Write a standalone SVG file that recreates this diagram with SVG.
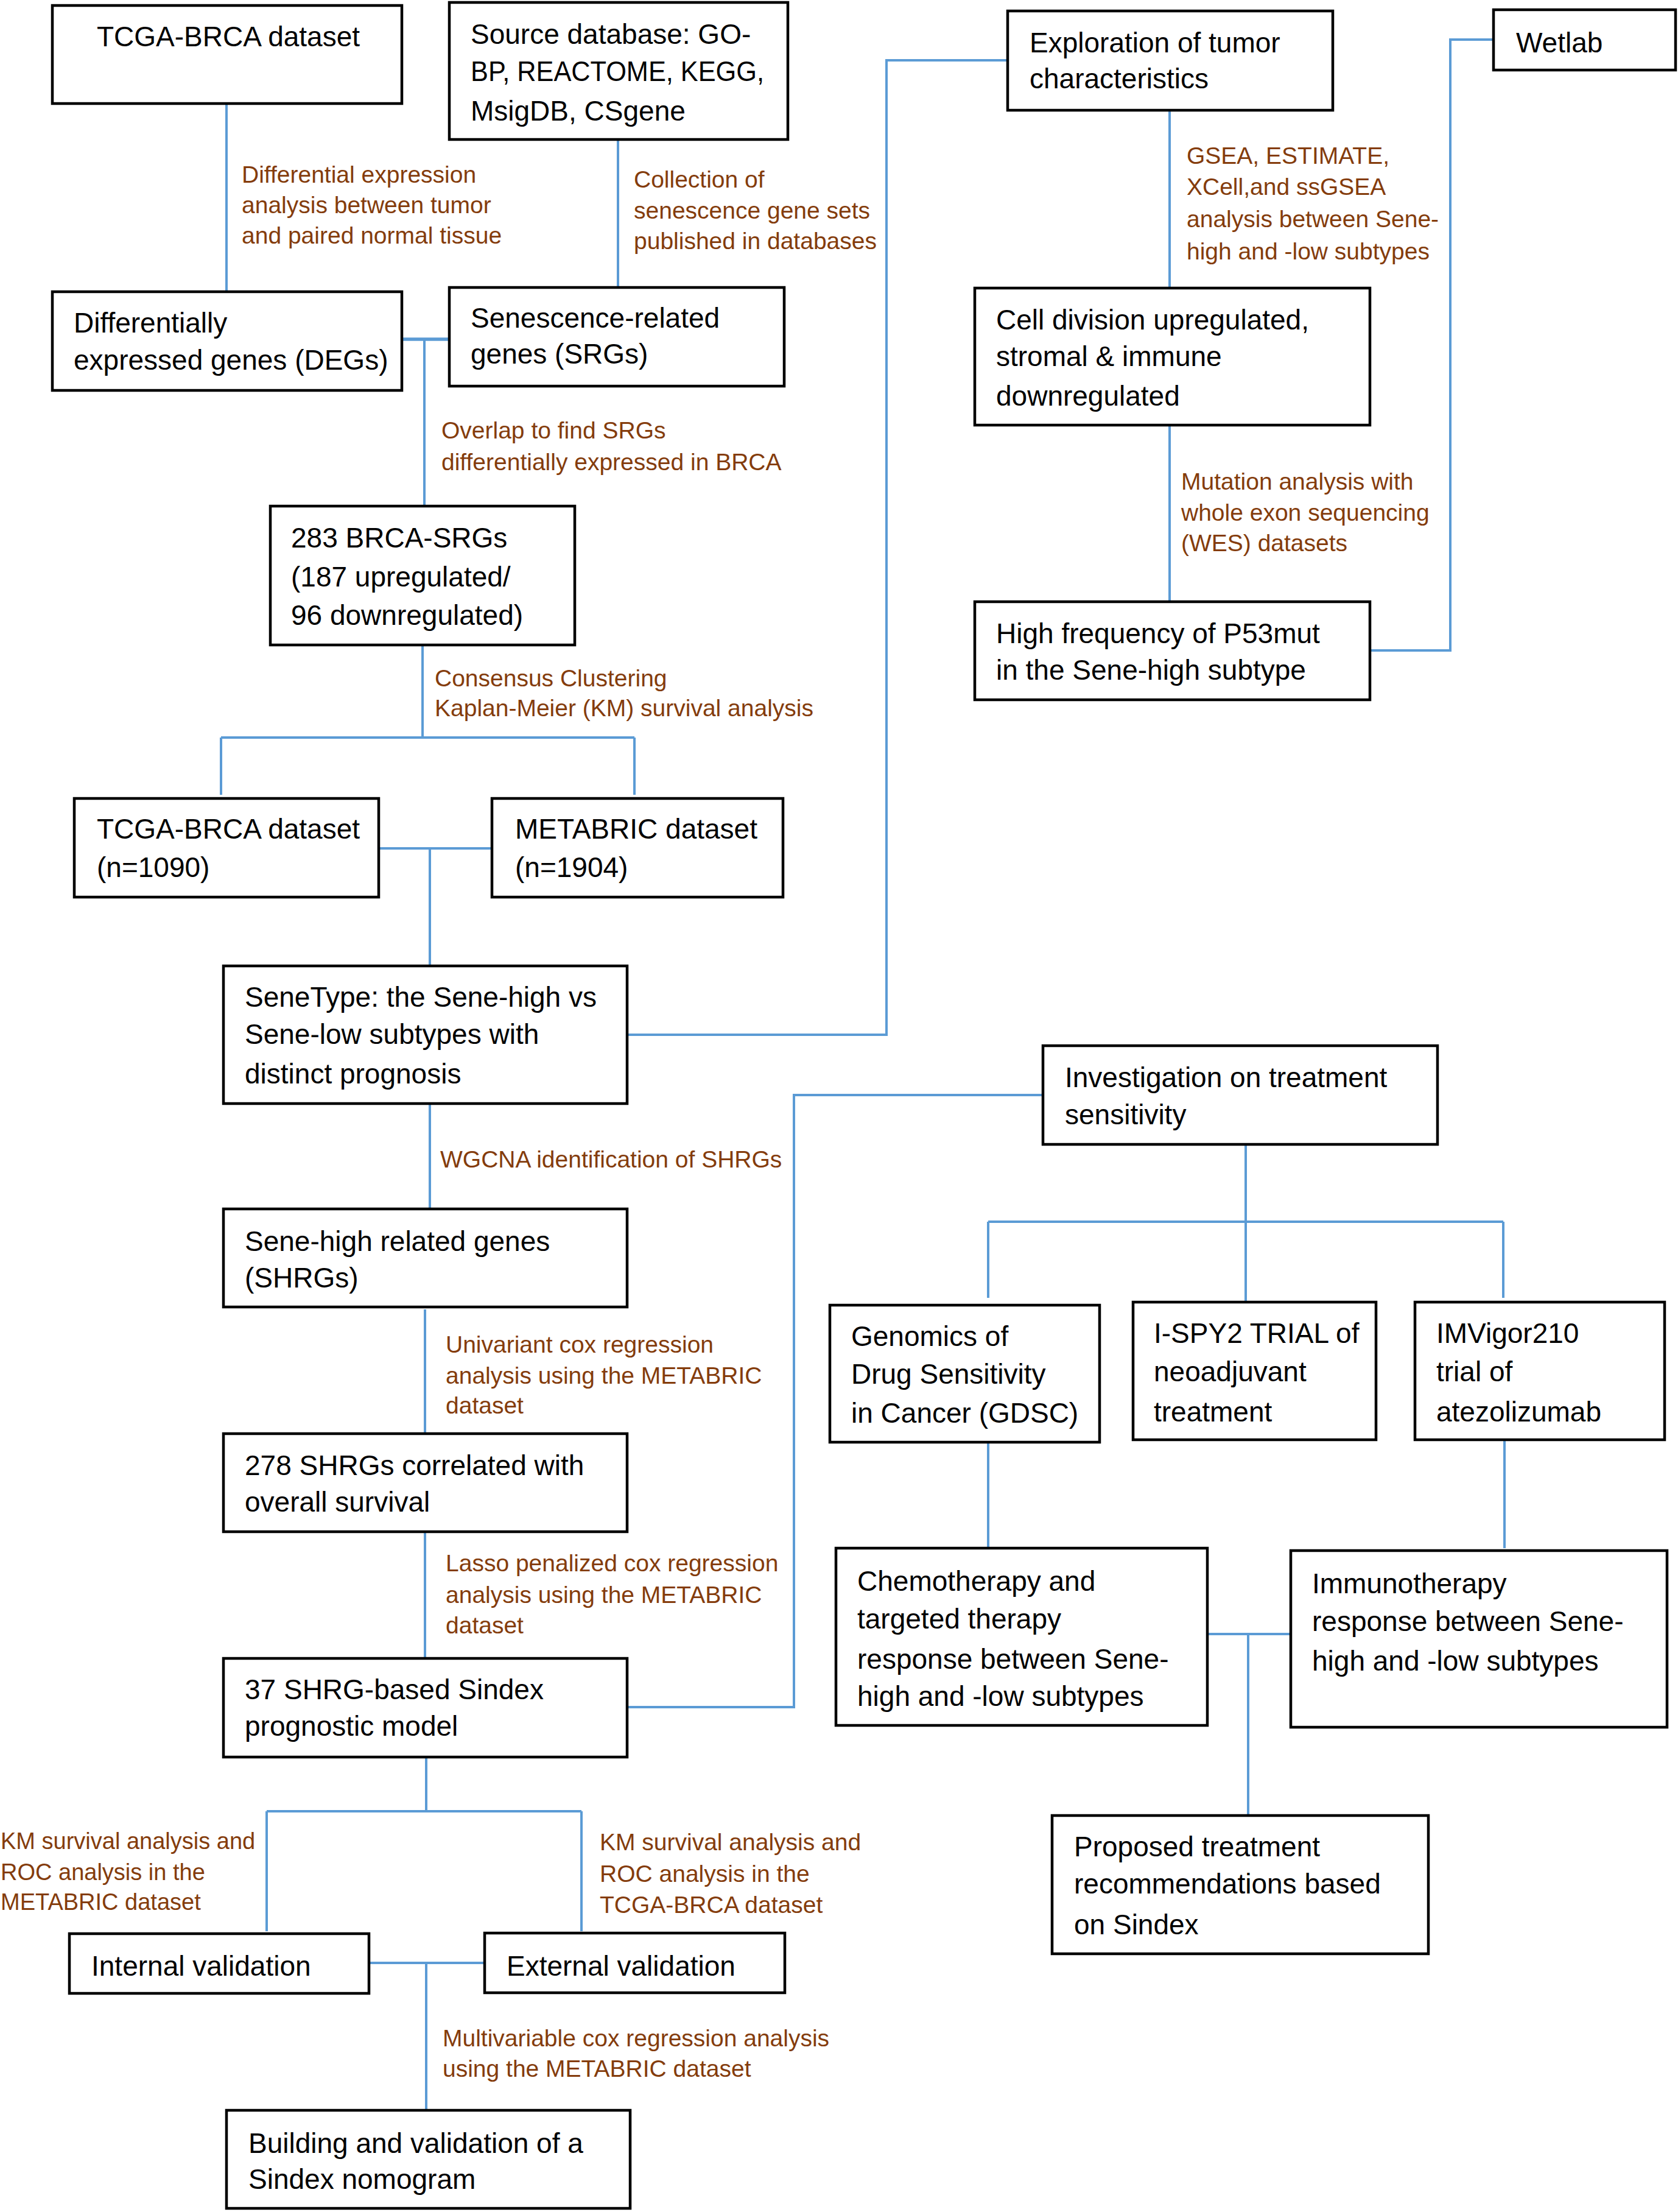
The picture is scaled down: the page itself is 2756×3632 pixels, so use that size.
<svg xmlns="http://www.w3.org/2000/svg" width="2756" height="3632" viewBox="0 0 2756 3632">
<style>
.box{fill:#fff;stroke:#000;stroke-width:4.5}
.t{font-family:"Liberation Sans",Arial,sans-serif;font-size:46px;fill:#000}
.r{font-family:"Liberation Sans",Arial,sans-serif;font-size:39px;fill:#843C0C}
.rs{font-size:38px}
.c{fill:none;stroke:#5B9BD5;stroke-width:4}
</style>
<rect width="2756" height="3632" fill="#fff"/>
<g id="connectors">
<path class="c" d="M372 170V479"/>
<path class="c" d="M1015 229V472"/>
<path class="c" d="M660 557H738" style="stroke-width:5.5"/>
<path class="c" d="M697 557V831"/>
<path class="c" d="M694 1059V1211M363 1211H1042M363 1211V1305M1042 1211V1305"/>
<path class="c" d="M622 1393H808M706 1393V1586"/>
<path class="c" d="M1030 1699H1456V99H1655"/>
<path class="c" d="M706 1812V1985"/>
<path class="c" d="M698 2150V2354"/>
<path class="c" d="M698 2515V2723"/>
<path class="c" d="M1030 2803H1304V1798H1713"/>
<path class="c" d="M700 2885V2974M438 2974H955M438 2974V3171M955 2974V3171"/>
<path class="c" d="M606 3223H796M700 3223V3465"/>
<path class="c" d="M1921 181V473"/>
<path class="c" d="M1921 698V988"/>
<path class="c" d="M2250 1068H2382V65H2453"/>
<path class="c" d="M2046 1879V2006M1623 2006H2469M1623 2006V2131M2046 2006V2136M2469 2006V2131"/>
<path class="c" d="M1623 2368V2542"/>
<path class="c" d="M2471 2364V2542"/>
<path class="c" d="M1983 2683H2120M2050 2683V2981"/>
</g>
<g id="labels">
<text class="r" x="397" y="300">Differential expression</text>
<text class="r" x="397" y="350">analysis between tumor</text>
<text class="r" x="397" y="400">and paired normal tissue</text>
<text class="r" x="1041" y="308">Collection of</text>
<text class="r" x="1041" y="359">senescence gene sets</text>
<text class="r" x="1041" y="409">published in databases</text>
<text class="r" x="725" y="720">Overlap to find SRGs</text>
<text class="r" x="725" y="772">differentially expressed in BRCA</text>
<text class="r" x="714" y="1127">Consensus Clustering</text>
<text class="r" x="714" y="1176">Kaplan-Meier (KM) survival analysis</text>
<text class="r" x="723" y="1917">WGCNA identification of SHRGs</text>
<text class="r" x="732" y="2221">Univariant cox regression</text>
<text class="r" x="732" y="2272">analysis using the METABRIC</text>
<text class="r" x="732" y="2321">dataset</text>
<text class="r" x="732" y="2580">Lasso penalized cox regression</text>
<text class="r" x="732" y="2632">analysis using the METABRIC</text>
<text class="r" x="732" y="2682">dataset</text>
<text class="r rs" x="1" y="3036">KM survival analysis and</text>
<text class="r rs" x="1" y="3087">ROC analysis in the</text>
<text class="r rs" x="1" y="3136">METABRIC dataset</text>
<text class="r" x="985" y="3038">KM survival analysis and</text>
<text class="r" x="985" y="3090">ROC analysis in the</text>
<text class="r" x="985" y="3141">TCGA-BRCA dataset</text>
<text class="r" x="727" y="3360">Multivariable cox regression analysis</text>
<text class="r" x="727" y="3410">using the METABRIC dataset</text>
<text class="r" x="1949" y="269">GSEA, ESTIMATE,</text>
<text class="r" x="1949" y="320">XCell,and ssGSEA</text>
<text class="r" x="1949" y="373">analysis between Sene-</text>
<text class="r" x="1949" y="426">high and -low subtypes</text>
<text class="r" x="1940" y="804">Mutation analysis with</text>
<text class="r" x="1940" y="855">whole exon sequencing</text>
<text class="r" x="1940" y="905">(WES) datasets</text>
</g>
<g id="tcga"><rect class="box" x="86" y="9" width="574" height="161"/><text class="t" x="159" y="76">TCGA-BRCA dataset</text></g>
<g id="source"><rect class="box" x="738" y="4" width="556" height="225"/><text class="t" x="773" y="72">Source database: GO-</text><text class="t" x="773" y="133" textLength="482" lengthAdjust="spacingAndGlyphs">BP, REACTOME, KEGG,</text><text class="t" x="773" y="198">MsigDB, CSgene</text></g>
<g id="degs"><rect class="box" x="86" y="479" width="574" height="162"/><text class="t" x="121" y="546">Differentially</text><text class="t" x="121" y="607">expressed genes (DEGs)</text></g>
<g id="srgs"><rect class="box" x="738" y="472" width="550" height="162"/><text class="t" x="773" y="538">Senescence-related</text><text class="t" x="773" y="597">genes (SRGs)</text></g>
<g id="brca283"><rect class="box" x="444" y="831" width="500" height="228"/><text class="t" x="478" y="899">283 BRCA-SRGs</text><text class="t" x="478" y="963">(187 upregulated/</text><text class="t" x="478" y="1026">96 downregulated)</text></g>
<g id="tcga2"><rect class="box" x="122" y="1311" width="500" height="162"/><text class="t" x="159" y="1377">TCGA-BRCA dataset</text><text class="t" x="159" y="1440">(n=1090)</text></g>
<g id="metabric"><rect class="box" x="808" y="1311" width="478" height="162"/><text class="t" x="846" y="1377">METABRIC dataset</text><text class="t" x="846" y="1440">(n=1904)</text></g>
<g id="senetype"><rect class="box" x="367" y="1586" width="663" height="226"/><text class="t" x="402" y="1653">SeneType: the Sene-high vs</text><text class="t" x="402" y="1714">Sene-low subtypes with</text><text class="t" x="402" y="1779">distinct prognosis</text></g>
<g id="shrgs"><rect class="box" x="367" y="1985" width="663" height="161"/><text class="t" x="402" y="2054">Sene-high related genes</text><text class="t" x="402" y="2114">(SHRGs)</text></g>
<g id="shrg278"><rect class="box" x="367" y="2354" width="663" height="161"/><text class="t" x="402" y="2422">278 SHRGs correlated with</text><text class="t" x="402" y="2482">overall survival</text></g>
<g id="sindex"><rect class="box" x="367" y="2723" width="663" height="162"/><text class="t" x="402" y="2790">37 SHRG-based Sindex</text><text class="t" x="402" y="2850">prognostic model</text></g>
<g id="internal"><rect class="box" x="114" y="3175" width="492" height="98"/><text class="t" x="150" y="3244">Internal validation</text></g>
<g id="external"><rect class="box" x="796" y="3174" width="493" height="98"/><text class="t" x="832" y="3244">External validation</text></g>
<g id="nomogram"><rect class="box" x="372" y="3465" width="663" height="161"/><text class="t" x="408" y="3535">Building and validation of a</text><text class="t" x="408" y="3594">Sindex nomogram</text></g>
<g id="exploration"><rect class="box" x="1655" y="18" width="534" height="163"/><text class="t" x="1691" y="86">Exploration of tumor</text><text class="t" x="1691" y="145">characteristics</text></g>
<g id="wetlab"><rect class="box" x="2453" y="16" width="299" height="99"/><text class="t" x="2490" y="86">Wetlab</text></g>
<g id="celldiv"><rect class="box" x="1601" y="473" width="649" height="225"/><text class="t" x="1636" y="541">Cell division upregulated,</text><text class="t" x="1636" y="601">stromal &amp; immune</text><text class="t" x="1636" y="666">downregulated</text></g>
<g id="p53"><rect class="box" x="1601" y="988" width="649" height="161"/><text class="t" x="1636" y="1056">High frequency of P53mut</text><text class="t" x="1636" y="1116">in the Sene-high subtype</text></g>
<g id="investigation"><rect class="box" x="1713" y="1717" width="648" height="162"/><text class="t" x="1749" y="1785">Investigation on treatment</text><text class="t" x="1749" y="1846">sensitivity</text></g>
<g id="gdsc"><rect class="box" x="1363" y="2143" width="443" height="225"/><text class="t" x="1398" y="2210">Genomics of</text><text class="t" x="1398" y="2272">Drug Sensitivity</text><text class="t" x="1398" y="2336">in Cancer (GDSC)</text></g>
<g id="ispy2"><rect class="box" x="1861" y="2138" width="399" height="226"/><text class="t" x="1895" y="2205">I-SPY2 TRIAL of</text><text class="t" x="1895" y="2268">neoadjuvant</text><text class="t" x="1895" y="2334">treatment</text></g>
<g id="imvigor"><rect class="box" x="2324" y="2138" width="410" height="226"/><text class="t" x="2359" y="2205">IMVigor210</text><text class="t" x="2359" y="2268">trial of</text><text class="t" x="2359" y="2334">atezolizumab</text></g>
<g id="chemo"><rect class="box" x="1373" y="2542" width="610" height="291"/><text class="t" x="1408" y="2612">Chemotherapy and</text><text class="t" x="1408" y="2674">targeted therapy</text><text class="t" x="1408" y="2740">response between Sene-</text><text class="t" x="1408" y="2801">high and -low subtypes</text></g>
<g id="immuno"><rect class="box" x="2120" y="2546" width="618" height="290"/><text class="t" x="2155" y="2616">Immunotherapy</text><text class="t" x="2155" y="2678">response between Sene-</text><text class="t" x="2155" y="2743">high and -low subtypes</text></g>
<g id="proposed"><rect class="box" x="1728" y="2981" width="618" height="227"/><text class="t" x="1764" y="3048">Proposed treatment</text><text class="t" x="1764" y="3109">recommendations based</text><text class="t" x="1764" y="3176">on Sindex</text></g>
</svg>
